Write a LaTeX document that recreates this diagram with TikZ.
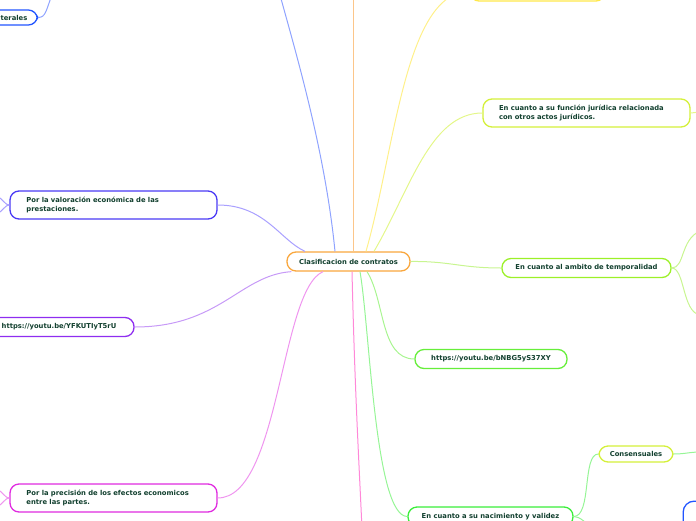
\documentclass[tikz,border=0pt]{standalone}
\usepackage{fontspec}
\setmainfont{DejaVu Sans}
\definecolor{tx}{HTML}{12402F}
\definecolor{cOr}{HTML}{F9A73E}\definecolor{lOr}{HTML}{FCC68A}
\definecolor{cBl}{HTML}{2255FF}\definecolor{lBl}{HTML}{8FA3FF}
\definecolor{cVi}{HTML}{4A3AF5}\definecolor{lVi}{HTML}{A9A0FF}
\definecolor{cPu}{HTML}{8E2DF0}\definecolor{lPu}{HTML}{C79AF7}
\definecolor{cMa}{HTML}{E02BE0}\definecolor{lMa}{HTML}{EF95EF}
\definecolor{lPk}{HTML}{FF88D8}
\definecolor{cYe}{HTML}{FFE84A}\definecolor{lYe}{HTML}{FFF08A}
\definecolor{cYg}{HTML}{D4F03A}\definecolor{lYg}{HTML}{E4F78A}
\definecolor{cTe}{HTML}{9CF028}\definecolor{lTe}{HTML}{C8F590}
\definecolor{cGn}{HTML}{66EE3A}\definecolor{lGn}{HTML}{A8F590}
\definecolor{cNa}{HTML}{3AEE3A}\definecolor{lNa}{HTML}{96F596}
\tikzset{
  box/.style={draw, rounded corners=9pt, line width=1.3pt, fill=white, text=tx,
    font=\bfseries\fontsize{6.8}{8.4}\selectfont, inner sep=0pt},
  conn/.style={line width=1pt},
}
\begin{document}
\begin{tikzpicture}[x=1pt,y=-1pt]
\clip (0,0) rectangle (696,520);
% nodes
\node[box, draw=cOr, minimum width=123pt, minimum height=19pt] (c) at (348.5,261.5) {Clasificacion de contratos};
\node[box, draw=cBl, anchor=east, minimum height=15pt, inner xsep=10pt] (bil) at (38,17.5) {Bilaterales};
\node[box, draw=cVi, minimum width=207pt, minimum height=28pt, text width=174pt, align=left] (val) at (113.5,205) {Por la valoración económica de las\\prestaciones.};
\node[box, draw=cPu, minimum width=150pt, minimum height=19pt] (yfk) at (59,327) {https://youtu.be/YFKUTIyT5rU};
\node[box, draw=cMa, minimum width=207pt, minimum height=28pt, text width=174pt, align=left] (pre) at (113.5,498) {Por la precisión de los efectos economicos\\entre las partes.};
\node[box, draw=cYe, minimum width=135pt, minimum height=19pt] (top) at (537.5,-8.5) {};
\node[box, draw=cYg, minimum width=207pt, minimum height=28pt, text width=175pt, align=left] (fun) at (586.5,113) {En cuanto a su función jurídica relacionada\\con otros actos jurídicos.};
\node[box, draw=cTe, minimum width=169pt, minimum height=19pt] (tem) at (586.5,268) {En cuanto al ambito de temporalidad};
\node[box, draw=cGn, minimum width=152pt, minimum height=19pt] (bnb) at (491,359) {https://youtu.be/bNBG5yS37XY};
\node[box, draw=cNa, minimum width=165pt, minimum height=19pt] (nac) at (490.5,516.5) {En cuanto a su nacimiento y validez};
\node[box, draw=cYg, minimum width=74pt, minimum height=16pt] (con) at (636,454) {Consensuales};
\node[box, draw=cBl, anchor=north west, minimum width=120pt, minimum height=30pt, rounded corners=11pt] (blu) at (682.5,500.5) {};
% free ends
\coordinate (eTopBl) at (280,-5);
\coordinate (eTopOr) at (353.5,-5);
\coordinate (eBot) at (362,530);
\coordinate (eBil) at (52,-5);
\coordinate (eV1) at (-3,196);\coordinate (eV2) at (-3,214);
\coordinate (eP1) at (-3,489);\coordinate (eP2) at (-3,507);
\coordinate (eF) at (700,112);
\coordinate (eT1) at (700,231);\coordinate (eT2) at (700,315);
\coordinate (eC) at (700,452);
\coordinate (eN) at (600,535);
% connectors
\draw[conn, lBl] ([xshift=-13.5pt]c.north) .. controls (325,150) and (295,50) .. (eTopBl);
\draw[conn, lOr] ([xshift=5pt]c.north) -- (eTopOr);
\draw[conn, lYe] ([xshift=17.5pt]c.north) .. controls (395,150) and (405,-8.5) .. (top.west);
\draw[conn, lYg] ([xshift=25.5pt]c.north) .. controls (410,190) and (430,113) .. (fun.west);
\draw[conn, lVi] ([xshift=-43.5pt]c.north) .. controls (280,240) and (265,205) .. (val.east);
\draw[conn, lPu] ([xshift=5pt]c.south west) .. controls (240,275) and (220,327) .. (yfk.east);
\draw[conn, lMa] ([xshift=-25.5pt]c.south) .. controls (280,290) and (280,498) .. (pre.east);
\draw[conn, lPk] ([xshift=3.5pt]c.south) .. controls (355,400) and (360,480) .. (eBot);
\draw[conn, lNa] ([xshift=11.5pt]c.south) .. controls (370,330) and (375,516.5) .. (nac.west);
\draw[conn, lGn] ([xshift=18.5pt]c.south) .. controls (385,300) and (380,359) .. (bnb.west);
\draw[conn, lTe] (c.east) .. controls (450,261) and (460,268) .. (tem.west);
\draw[conn, lBl] (bil.east) .. controls (46,17.5) and (46,10) .. (eBil);
\draw[conn, lVi] (val.west) .. controls (5,205) and (4,200) .. (eV1);
\draw[conn, lVi] (val.west) .. controls (5,205) and (4,210) .. (eV2);
\draw[conn, lMa] (pre.west) .. controls (5,498) and (4,493) .. (eP1);
\draw[conn, lMa] (pre.west) .. controls (5,498) and (4,503) .. (eP2);
\draw[conn, lYg] (fun.east) -- (eF);
\draw[conn, lTe] (tem.east) .. controls (685,268) and (680,240) .. (eT1);
\draw[conn, lTe] (tem.east) .. controls (685,268) and (682,312) .. (eT2);
\draw[conn, lNa] (nac.east) .. controls (592,516.5) and (582,454) .. (con.west);
\draw[conn, lNa] (nac.east) .. controls (580,516.5) and (585,522) .. (eN);
\draw[conn, lNa] (con.east) .. controls (685,454) and (690,452) .. (eC);
\end{tikzpicture}
\end{document}
